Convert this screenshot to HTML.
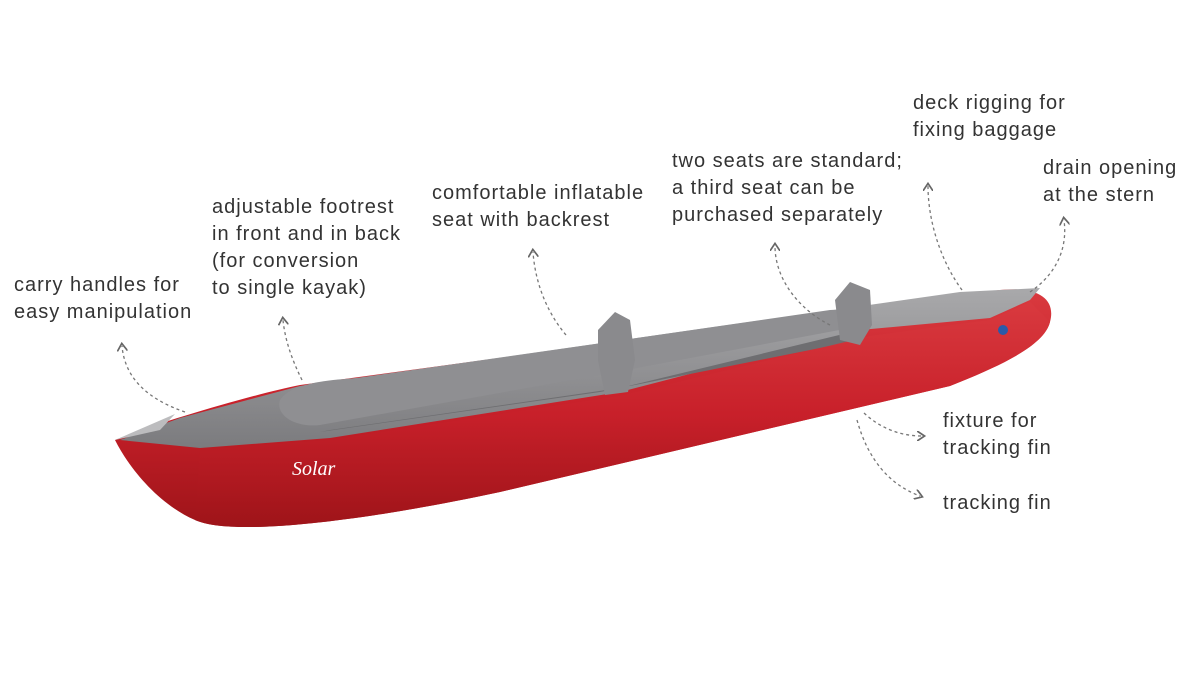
<!DOCTYPE html>
<html><head><meta charset="utf-8"><style>
html,body{margin:0;padding:0;background:#fff;}
#w{position:relative;width:1200px;height:675px;overflow:hidden;font-family:"Liberation Sans",sans-serif;}
.t{position:absolute;font-size:20px;line-height:27px;color:#333;letter-spacing:1px;white-space:nowrap;}
</style></head><body><div id="w">
<svg width="1200" height="675" style="position:absolute;left:0;top:0">
<defs>
<linearGradient id="red" x1="0" y1="0" x2="0" y2="1">
<stop offset="0" stop-color="#d93a3f"/><stop offset="0.5" stop-color="#c8202a"/><stop offset="1" stop-color="#9e1419"/></linearGradient>
<linearGradient id="gr" x1="0" y1="0" x2="0" y2="1">
<stop offset="0" stop-color="#a9a9ab"/><stop offset="1" stop-color="#7b7b7e"/></linearGradient>
<marker id="ah" markerWidth="8" markerHeight="8" refX="4" refY="4" orient="auto"><path d="M0,0 L6,4 L0,8" fill="none" stroke="#666" stroke-width="1.3"/></marker>
</defs>
<path d="M115,440 C150,425 250,395 300,385 L1000,290 C1040,286 1056,300 1050,322 C1044,346 1000,366 950,386 L500,492 C350,524 230,536 195,520 C160,505 130,470 115,440 Z" fill="url(#red)"/>
<path d="M120,440 L180,418 L300,386 L960,292 L1040,288 L1030,300 L990,318 L860,330 L620,392 L330,438 L200,448 Z" fill="url(#gr)"/>
<path d="M280,400 C290,385 320,380 360,378 L830,310 C850,308 860,318 850,328 L600,375 L320,425 C295,428 275,415 280,400 Z" fill="#8f8f92"/>
<path d="M320,432 L600,392 L860,340 L860,330 L620,388 L330,430 Z" fill="#6e6e71"/>
<path d="M200,450 L330,440 L620,396 L870,336 L990,320 L1030,302 L1050,322 C1044,346 1000,366 950,386 L500,492 C350,524 230,536 195,520 Z" fill="url(#red)" opacity="0.9"/>
<path d="M598,330 L615,312 L630,320 L635,360 L628,392 L605,395 L598,360 Z" fill="#8a8a8d"/>
<path d="M835,300 L850,282 L870,290 L872,325 L860,345 L840,340 Z" fill="#8a8a8d"/>
<path d="M115,440 L175,414 L160,430 Z" fill="#bcbcbe"/>
<text x="292" y="475" font-family="Liberation Serif" font-style="italic" font-size="20" fill="#fff">Solar</text>
<circle cx="1003" cy="330" r="5" fill="#2a5aa8"/>
<g fill="none" stroke="#777" stroke-width="1.3" stroke-dasharray="3,3" marker-end="url(#ah)">
<path d="M185,412 C150,400 125,380 122,346"/>
<path d="M302,380 C292,360 285,340 283,320"/>
<path d="M566,335 C545,310 535,280 533,252"/>
<path d="M830,325 C800,310 775,280 775,246"/>
<path d="M962,290 C940,260 928,220 928,186"/>
<path d="M1030,292 C1055,275 1068,250 1064,220"/>
<path d="M864,413 C880,428 900,436 922,436"/>
<path d="M857,420 C868,460 890,485 920,496"/>
</g>
</svg>
<div class="t" style="left:14px;top:272px">carry handles for<br>easy manipulation</div>
<div class="t" style="left:212px;top:194px">adjustable footrest<br>in front and in back<br>(for conversion<br>to single kayak)</div>
<div class="t" style="left:432px;top:180px">comfortable inflatable<br>seat with backrest</div>
<div class="t" style="left:672px;top:148px">two seats are standard;<br>a third seat can be<br>purchased separately</div>
<div class="t" style="left:913px;top:90px">deck rigging for<br>fixing baggage</div>
<div class="t" style="left:1043px;top:155px">drain opening<br>at the stern</div>
<div class="t" style="left:943px;top:408px">fixture for<br>tracking fin</div>
<div class="t" style="left:943px;top:490px">tracking fin</div>
</div></body></html>
